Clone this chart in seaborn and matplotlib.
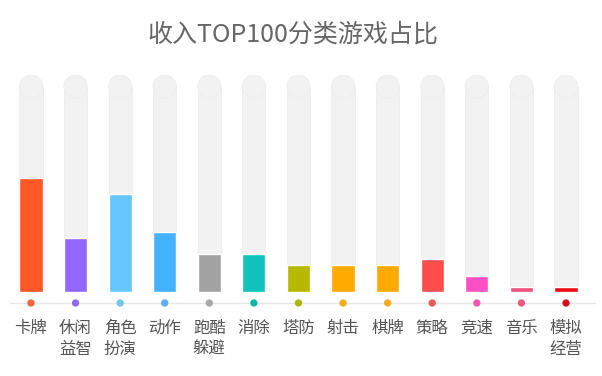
import matplotlib.pyplot as plt
import matplotlib.patches as mpatches
import pandas as pd
import seaborn as sns

categories = ['卡牌', '休闲\n益智', '角色\n扮演', '动作', '跑酷\n躲避', '消除', '塔防',
              '射击', '棋牌', '策略', '竞速', '音乐', '模拟\n经营']
counts = [21, 10, 18, 11, 7, 7, 5, 5, 5, 6, 3, 1, 1]
full = 40
bar_colors = ['#FF5726', '#9068FF', '#66C7FF', '#45B2FF', '#A2A2A2', '#13C2BC', '#B6B900',
              '#FFAA00', '#FFAA00', '#FF4D4D', '#FF4FC6', '#F1517F', '#EE0A14']
dot_colors = ['#F0643C', '#8A6CE8', '#74C4EE', '#5AAEF0', '#A8A8A8', '#10B4A8', '#A9B800',
              '#F6AA1E', '#F6AA1E', '#E85A5A', '#EE55B8', '#E85A80', '#D4101E']


def main():
    df = pd.DataFrame({'cat': categories, 'count': counts, 'full': [full] * len(categories)})

    sns.set_style('white')
    plt.rcParams['font.family'] = ['Noto Sans CJK SC', 'DejaVu Sans']

    fig = plt.figure(figsize=(6.02, 3.76), dpi=100)
    ax = fig.add_axes([10 / 602, 73 / 376, 585 / 602, 228 / 376])

    # grey track behind each bar
    sns.barplot(data=df, x='cat', y='full', color='#F2F2F2', width=0.52,
                saturation=1, ax=ax, zorder=1)
    per_px = full / 217
    r = 11.5 * per_px
    for p in list(ax.patches):
        x, w, h = p.get_x(), p.get_width(), p.get_height()
        p.set_height(h - r)
        p.set_edgecolor('#EDEDED')
        p.set_linewidth(0.6)
        ax.add_patch(mpatches.Ellipse((x + w / 2, h - r), w, 2 * r,
                                      facecolor='#F2F2F2', edgecolor='#EDEDED',
                                      linewidth=0.6, zorder=1))
        ax.add_patch(mpatches.Rectangle((x + 0.01, h - r - 0.5), w - 0.02, 1,
                                        facecolor='#F2F2F2', edgecolor='none', zorder=1.5))

    sns.barplot(data=df, x='cat', y='count', hue='cat', palette=bar_colors,
                width=0.52, saturation=1, legend=False, ax=ax, zorder=2)

    base = -11 * per_px
    ax.set_xlim(-0.47, 12.65)
    ax.set_ylim(base, full)
    ax.scatter(range(len(categories)), [base] * len(categories), s=18,
               c=dot_colors, zorder=5, clip_on=False)

    for s in ['top', 'right', 'left']:
        ax.spines[s].set_visible(False)
    ax.spines['bottom'].set_color('#E6E6E6')
    ax.spines['bottom'].set_linewidth(1)
    ax.set_yticks([])
    ax.set_xlabel('')
    ax.set_ylabel('')
    ax.tick_params(axis='x', length=0, pad=12, labelsize=11.8, labelcolor='#555555')
    for t in ax.get_xticklabels():
        t.set_linespacing(1.35)
        t.set_verticalalignment('top')

    fig.text(0.486, 0.907, '收入TOP100分类游戏占比', ha='center', va='center',
             fontsize=18, color='#666666')

    plt.savefig('out.png', dpi=100)


if __name__ == '__main__':
    main()
